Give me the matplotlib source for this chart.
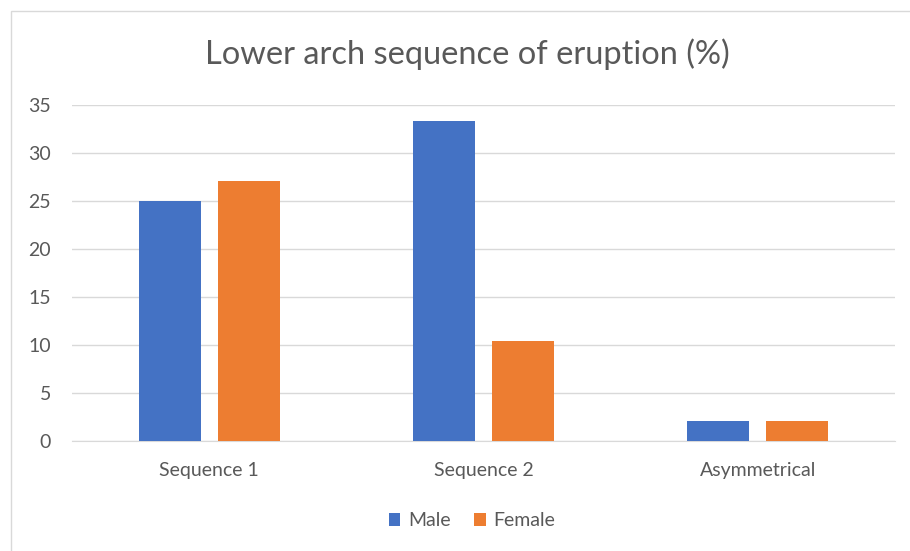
import numpy as np
import matplotlib.pyplot as plt
from matplotlib.patches import Rectangle

plt.rcParams['font.family'] = ['Lato', 'DejaVu Sans']

# Data (%)
categories = ["Sequence 1", "Sequence 2", "Asymmetrical"]
male = [25.0, 33.3, 2.1]
female = [27.1, 10.4, 2.1]

x = np.arange(len(categories))
w = 0.226
off = 0.144

fig = plt.figure(figsize=(9.1, 5.51), dpi=100)
ax = fig.add_axes([72 / 910, 110 / 551, 823 / 910, 336 / 551])

# outer chart frame
fig.patches.append(Rectangle((11 / 910, -0.05), 1.2, (540 / 551) + 0.05,
                             transform=fig.transFigure, fill=False,
                             edgecolor="#D9D9D9", linewidth=1))

ax.bar(x - off, male, w, color="#4472C4", label="Male", zorder=3)
ax.bar(x + off, female, w, color="#ED7D31", label="Female", zorder=3)

ax.set_xlim(-0.5, 2.5)
ax.set_ylim(0, 35)
ax.set_yticks(range(0, 36, 5))
ax.set_xticks(x)
ax.set_xticklabels(categories)
ax.grid(axis="y", color="#D9D9D9", linewidth=1, zorder=0)
for s in ["top", "right", "left"]:
    ax.spines[s].set_visible(False)
ax.spines["bottom"].set_color("#D9D9D9")
ax.tick_params(length=0, labelsize=14, colors="#595959")
ax.tick_params(axis="x", pad=15)
ax.tick_params(axis="y", pad=15)

fig.text(467 / 910, 1 - 54 / 551, "Lower arch sequence of eruption (%)",
         ha="center", va="center", fontsize=23.5, color="#595959")

fig.legend(loc="center", bbox_to_anchor=(472 / 910, 1 - 521 / 551), ncol=2,
           frameon=False, fontsize=14, handlelength=0.6, handleheight=0.6,
           columnspacing=1.2, handletextpad=0.4, labelcolor="#595959")

fig.savefig("out.png", dpi=100)
